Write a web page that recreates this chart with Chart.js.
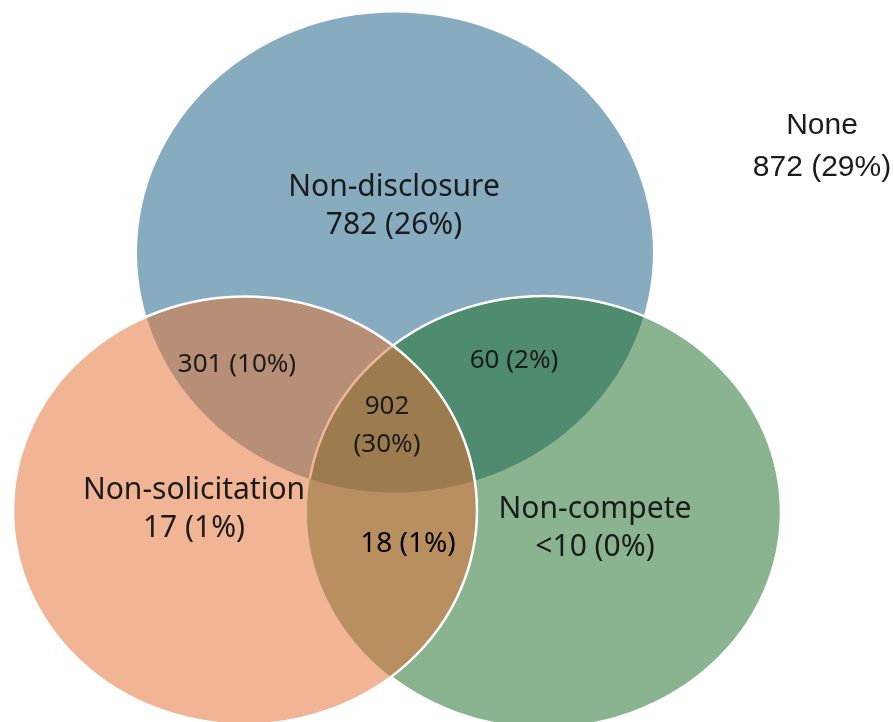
<!DOCTYPE html>
<html>
<head>
<meta charset="utf-8">
<title>Restrictive covenants</title>
<script src="https://cdn.jsdelivr.net/npm/chart.js@4.4.1/dist/chart.umd.min.js"></script>
<style>
    html, body { margin: 0; padding: 0; background: #ffffff; }
    #wrap { width: 894px; height: 722px; }
</style>
</head>
<body>
<div id="wrap"><canvas id="venn" width="894" height="722"></canvas></div>
<script>
// Contract counts by clause combination
const setNames = ['Non-disclosure', 'Non-solicitation', 'Non-compete'];
const setCounts = ['782', '17', '<10'];
const setShares = [26, 1, 0];

const pairNames = ['Non-disclosure + Non-solicitation', 'Non-disclosure + Non-compete', 'Non-solicitation + Non-compete'];
const pairCounts = ['301', '60', '18'];
const pairShares = [10, 2, 1];

const allThreeCount = '902';
const allThreeShare = 30;

const noneName = 'None';
const noneCount = '872';
const noneShare = 29;

// Layout of the diagram, in axis units (the axes span the canvas)
const ellipses = [
    { x: 395, y: 252.5, rx: 258, ry: 240 },
    { x: 245, y: 510.5, rx: 232, ry: 214 },
    { x: 544, y: 512, rx: 237, ry: 216 }
];
const setColors = ['#88acbf', '#f1b596', '#8ab48f'];
const pairColors = ['#b78e76', '#4f8b6e', '#b98f5f'];
const tripleColor = '#9c7c4e';

const mainFont = '"Noto Sans", sans-serif';
const noneFont = '"Liberation Sans", Arial, sans-serif';

const labelSpots = {
    sets: [{ x: 394, y: 196 }, { x: 194, y: 499 }, { x: 595, y: 518 }],
    pairs: [{ x: 237, y: 372 }, { x: 514, y: 368 }, { x: 408, y: 552 }],
    triple: { x: 387, y: 414 },
    none: { x: 822, y: 134 }
};

function fmt(count, share) {
    return `${count} (${share}%)`;
}

function ellipsePath(chart, i) {
    const { x, y } = chart.scales;
    const e = chart.data.datasets[0].data[i];
    const g = ellipses[i];
    const cx = x.getPixelForValue(e.x);
    const cy = y.getPixelForValue(e.y);
    const rx = Math.abs(x.getPixelForValue(e.x + g.rx) - cx);
    const ry = Math.abs(y.getPixelForValue(e.y + g.ry) - cy);
    const p = new Path2D();
    p.ellipse(cx, cy, rx, ry, 0, 0, Math.PI * 2);
    return p;
}

const vennPlugin = {
    id: 'venn',
    beforeDatasetsDraw(chart) {
        const ctx = chart.ctx;
        const W = chart.width, H = chart.height;
        const paths = [0, 1, 2].map(i => ellipsePath(chart, i));

        ctx.save();
        paths.forEach((p, i) => {
            ctx.fillStyle = setColors[i];
            ctx.fill(p);
        });

        // pairwise overlaps, then the centre
        [[0, 1], [0, 2], [1, 2]].forEach(([a, b], k) => {
            ctx.save();
            ctx.clip(paths[a]);
            ctx.clip(paths[b]);
            ctx.fillStyle = pairColors[k];
            ctx.fillRect(0, 0, W, H);
            ctx.restore();
        });
        ctx.save();
        paths.forEach(p => ctx.clip(p));
        ctx.fillStyle = tripleColor;
        ctx.fillRect(0, 0, W, H);
        ctx.restore();

        // outlines: the green one sits under the orange one
        ctx.lineWidth = 2.5;
        const outsideOrange = new Path2D();
        outsideOrange.rect(0, 0, W, H);
        outsideOrange.addPath(paths[1]);
        ctx.save();
        ctx.clip(outsideOrange, 'evenodd');
        ctx.strokeStyle = '#ffffff';
        ctx.stroke(paths[2]);
        ctx.restore();
        ctx.save();
        ctx.clip(paths[1]);
        ctx.clip(paths[0]);
        ctx.strokeStyle = setColors[1];
        ctx.stroke(paths[2]);
        ctx.restore();

        ctx.strokeStyle = '#ffffff';
        ctx.stroke(paths[1]);
        ctx.restore();
    },
    afterDatasetsDraw(chart) {
        const ctx = chart.ctx;
        const { x, y } = chart.scales;
        const text = (str, spot, dy, font) => {
            ctx.font = font;
            ctx.fillText(str, x.getPixelForValue(spot.x), y.getPixelForValue(spot.y) + dy);
        };
        ctx.save();
        ctx.fillStyle = '#1b1b1b';
        ctx.textAlign = 'center';
        ctx.textBaseline = 'alphabetic';

        setNames.forEach((name, i) => {
            const f = `30px ${mainFont}`;
            text(name, labelSpots.sets[i], 0, f);
            text(fmt(setCounts[i], setShares[i]), labelSpots.sets[i], 38, f);
        });
        pairCounts.forEach((c, i) => {
            const f = i === 2 ? `28px ${mainFont}` : `26px ${mainFont}`;
            ctx.fillStyle = i === 2 ? '#000000' : '#1b1b1b';
            text(fmt(c, pairShares[i]), labelSpots.pairs[i], 0, f);
        });
        ctx.fillStyle = '#1b1b1b';
        text(allThreeCount, labelSpots.triple, 0, `26px ${mainFont}`);
        text(`(${allThreeShare}%)`, labelSpots.triple, 38, `26px ${mainFont}`);

        text(noneName, labelSpots.none, 0, `30px ${noneFont}`);
        text(fmt(noneCount, noneShare), labelSpots.none, 42, `30px ${noneFont}`);
        ctx.restore();
    }
};

new Chart(document.getElementById('venn'), {
    type: 'scatter',
    data: {
        datasets: [{
            label: 'Clause sets',
            data: ellipses.map(e => ({ x: e.x, y: e.y })),
            pointRadius: 0,
            pointHoverRadius: 0
        }]
    },
    options: {
        responsive: false,
        animation: false,
        devicePixelRatio: 1,
        layout: { padding: 0 },
        events: [],
        plugins: {
            legend: { display: false },
            tooltip: { enabled: false }
        },
        scales: {
            x: { type: 'linear', min: 0, max: 894, display: false },
            y: { type: 'linear', min: 0, max: 722, reverse: true, display: false }
        }
    },
    plugins: [vennPlugin]
});
</script>
</body>
</html>
